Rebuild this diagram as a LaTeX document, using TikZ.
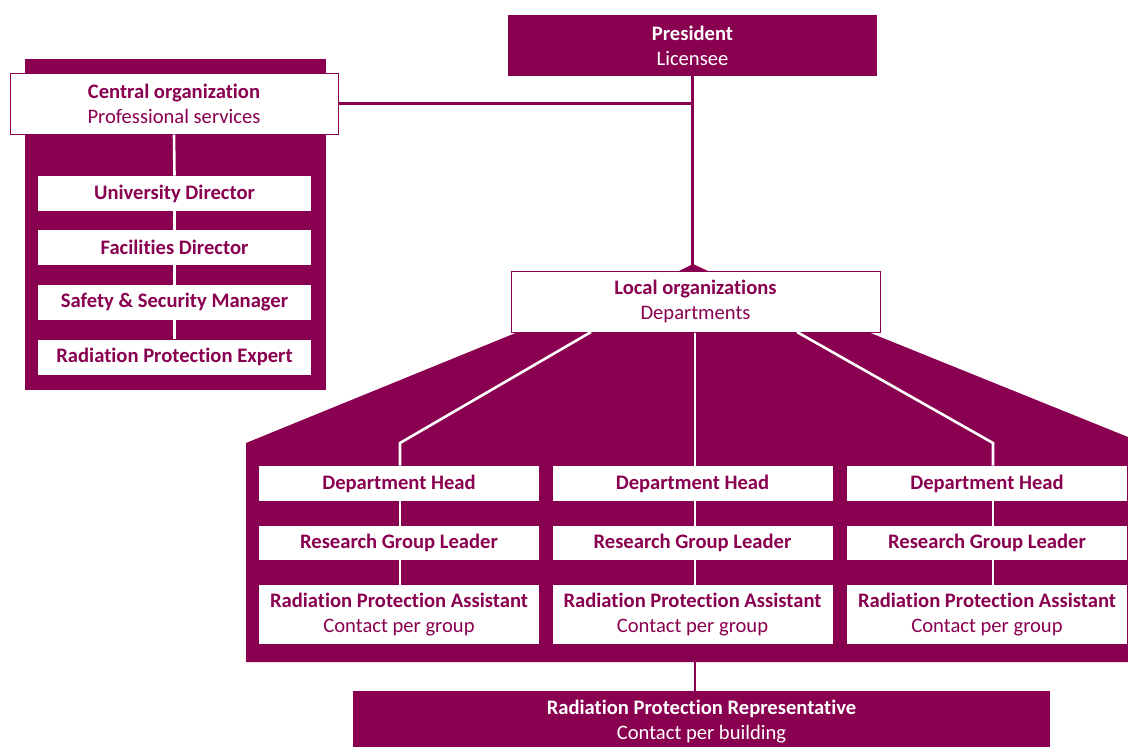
\documentclass[tikz,border=0pt]{standalone}
\usepackage{fontspec}
\setmainfont[Ligatures=NoCommon]{Carlito}
\definecolor{plum}{HTML}{8A0050}
\tikzset{
  txt/.style={font=\fontsize{10.3}{12.5}\selectfont, inner sep=0pt, align=center},
  headbox/.style={txt, fill=plum, text=white, minimum width=#1, minimum height=30.5pt},
  orgbox/.style={txt, fill=white, draw=plum, line width=0.5pt, text=plum, minimum width=#1, minimum height=30.5pt},
  rolebox/.style={txt, fill=white, text=plum, minimum width=#1, minimum height=17.5pt},
  link/.style={draw=plum, line width=1.5pt},
  wlink/.style={draw=white, line width=1.3pt}
}
\begin{document}
\begin{tikzpicture}[x=0.5pt,y=-0.5pt]
\useasboundingbox (0,0) rectangle (1128,746);
% backgrounds
\fill[plum] (25,59) rectangle (326,390);
\fill[plum] (246,662) -- (246,443) -- (518,332) -- (868,332) -- (1128,437) -- (1128,662) -- cycle;
\fill[plum] (679,271) -- (693,264) -- (708,271) -- cycle;
% top
\node[headbox=184.5pt] (pres) at (692.5,45.5) {\textbf{President}\\Licensee};
\node[orgbox=164pt] (central) at (174,103.5) {\textbf{Central organization}\\Professional services};
\node[orgbox=184.5pt] (local) at (695.5,301.5) {\textbf{Local organizations}\\Departments};
% central organization
\node[rolebox=136.5pt] (unidir) at (174.5,193.5) {\textbf{University Director}};
\node[rolebox=136.5pt] (facdir) at (174.5,247.5) {\textbf{Facilities Director}};
\node[rolebox=136.5pt] (safety) at (174.5,302.5) {\textbf{Safety \& Security Manager}};
\node[rolebox=136.5pt] (rpe) at (174.5,357) {\textbf{Radiation Protection Expert}};
% departments
\foreach \i/\x in {1/399,2/692.5,3/987} {
  \node[rolebox=140pt] (head\i) at (\x,483.5) {\textbf{Department Head}};
  \node[rolebox=140pt, minimum height=17pt] (leader\i) at (\x,543) {\textbf{Research Group Leader}};
  \node[rolebox=140pt, minimum height=29.5pt] (rpa\i) at (\x,614.5) {\textbf{Radiation Protection Assistant}\\Contact per group};
}
\node[headbox=348.5pt, minimum height=31pt] (rpr) at (701.5,722) {\textbf{Radiation Protection Representative}\\Contact per building};
% connectors
\draw[link] (pres.south) -- (pres.south |- local.north);
\draw[link] (central.east) -- (central.east -| pres.south);
\draw[wlink] (central.south) -- (unidir.north);
\draw[wlink] (unidir.south) -- (facdir.north);
\draw[wlink] (facdir.south) -- (safety.north);
\draw[wlink] (safety.south) -- (rpe.north);
\coordinate (b1) at (591,332);
\coordinate (b3) at (797,332);
\coordinate (k1) at (400,443);
\coordinate (k2) at (695,443);
\coordinate (k3) at (993,443);
\draw[wlink] (b1) -- (k1) -- (k1 |- head1.north);
\draw[wlink] (k2 |- local.south) -- (k2 |- head2.north);
\draw[wlink] (b3) -- (k3) -- (k3 |- head3.north);
\foreach \i in {1,2,3} {
  \draw[wlink] (k\i |- head\i.south) -- (k\i |- leader\i.north);
  \draw[wlink] (k\i |- leader\i.south) -- (k\i |- rpa\i.north);
}
\coordinate (hb) at (695,662);
\draw[plum, line width=1pt] (hb) -- (hb |- rpr.north);
\end{tikzpicture}
\end{document}
